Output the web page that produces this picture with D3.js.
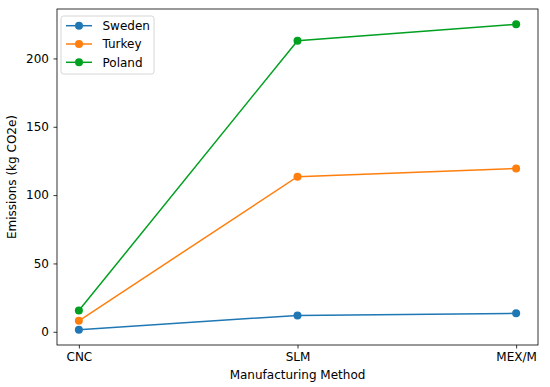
<!DOCTYPE html>
<html>
<head>
<meta charset="utf-8">
<script src="https://cdn.jsdelivr.net/npm/d3@7"></script>
<style>
	body { margin: 0; background: #fff; }
	svg text { font-family: "DejaVu Sans", sans-serif; fill: #000; }
</style>
</head>
<body>
<svg id="chart" width="550" height="387"></svg>
<script>
// data
var methods = ['CNC', 'SLM', 'MEX/M'];
var sweden = [1.5, 12, 13.5];
var turkey = [8, 113.5, 119.5];
var poland = [15.5, 213, 225];
var yTicks = [0, 50, 100, 150, 200];

var seriesList = [
	{ name: 'Sweden', values: sweden, color: '#1f77b4' },
	{ name: 'Turkey', values: turkey, color: '#ff7f0e' },
	{ name: 'Poland', values: poland, color: '#00a020' }
];

var fontSize = 12;
var margin = { top: 9, right: 12, bottom: 42, left: 57 };
var width = 550 - margin.left - margin.right;
var height = 387 - margin.top - margin.bottom;

var svg = d3.select('#chart');
var g = svg.append('g')
	.attr('transform', 'translate(' + margin.left + ',' + margin.top + ')');

var x = d3.scaleLinear()
	.domain([-0.1, methods.length - 1 + 0.1])
	.range([0, width]);

var allValues = sweden.concat(turkey, poland);
var yMin = d3.min(allValues), yMax = d3.max(allValues);
var pad = (yMax - yMin) * 0.05;
var y = d3.scaleLinear()
	.domain([yMin - pad, yMax + pad])
	.range([height, 0]);

var xAxis = g.append('g')
	.attr('transform', 'translate(0,' + height + ')')
	.call(d3.axisBottom(x).tickValues(d3.range(methods.length)).tickFormat(function(i) { return methods[i]; }).tickSize(3.5).tickPadding(4));

var yAxis = g.append('g')
	.call(d3.axisLeft(y).tickValues(yTicks).tickSize(3.5).tickPadding(4.5));

[xAxis, yAxis].forEach(function(ax) {
	ax.select('.domain').remove();
	ax.selectAll('text').attr('font-size', fontSize).attr('font-family', '"DejaVu Sans", sans-serif').attr('fill', '#000');
	ax.selectAll('line').attr('stroke', '#000').attr('stroke-width', 0.8);
});

var line = d3.line()
	.x(function(d, i) { return x(i); })
	.y(function(d) { return y(d); });

var seriesG = g.selectAll('g.series')
	.data(seriesList)
	.enter()
	.append('g')
	.attr('class', 'series');

seriesG.append('path')
	.attr('d', function(d) { return line(d.values); })
	.attr('fill', 'none')
	.attr('stroke', function(d) { return d.color; })
	.attr('stroke-width', 1.5);

seriesG.selectAll('circle')
	.data(function(d) { return d.values.map(function(v) { return { v: v, color: d.color }; }); })
	.enter()
	.append('circle')
	.attr('cx', function(d, i) { return x(i); })
	.attr('cy', function(d) { return y(d.v); })
	.attr('r', 4)
	.attr('fill', function(d) { return d.color; });

// frame
g.append('rect')
	.attr('width', width)
	.attr('height', height)
	.attr('fill', 'none')
	.attr('stroke', '#000')
	.attr('stroke-width', 0.8);

// axis titles
g.append('text')
	.attr('x', width / 2)
	.attr('y', height + 34)
	.attr('text-anchor', 'middle')
	.attr('font-size', fontSize)
	.text('Manufacturing Method');

g.append('text')
	.attr('transform', 'translate(-41,' + (height / 2) + ') rotate(-90)')
	.attr('text-anchor', 'middle')
	.attr('font-size', fontSize)
	.text('Emissions (kg CO2e)');

// legend
var legend = g.append('g').attr('transform', 'translate(4,7)');
legend.append('rect')
	.attr('width', 93)
	.attr('height', 58)
	.attr('rx', 2.5)
	.attr('fill', '#fff')
	.attr('fill-opacity', 0.8)
	.attr('stroke', '#ccc')
	.attr('stroke-width', 0.8);

var legendItem = legend.selectAll('g.item')
	.data(seriesList)
	.enter()
	.append('g')
	.attr('class', 'item')
	.attr('transform', function(d, i) { return 'translate(0,' + (9.7 + i * 18.3) + ')'; });

legendItem.append('line')
	.attr('x1', 5).attr('x2', 31)
	.attr('stroke', function(d) { return d.color; })
	.attr('stroke-width', 1.5);
legendItem.append('circle')
	.attr('cx', 18)
	.attr('r', 4)
	.attr('fill', function(d) { return d.color; });
legendItem.append('text')
	.attr('x', 41.5)
	.attr('dy', '0.35em')
	.attr('font-size', fontSize)
	.text(function(d) { return d.name; });
</script>
</body>
</html>
